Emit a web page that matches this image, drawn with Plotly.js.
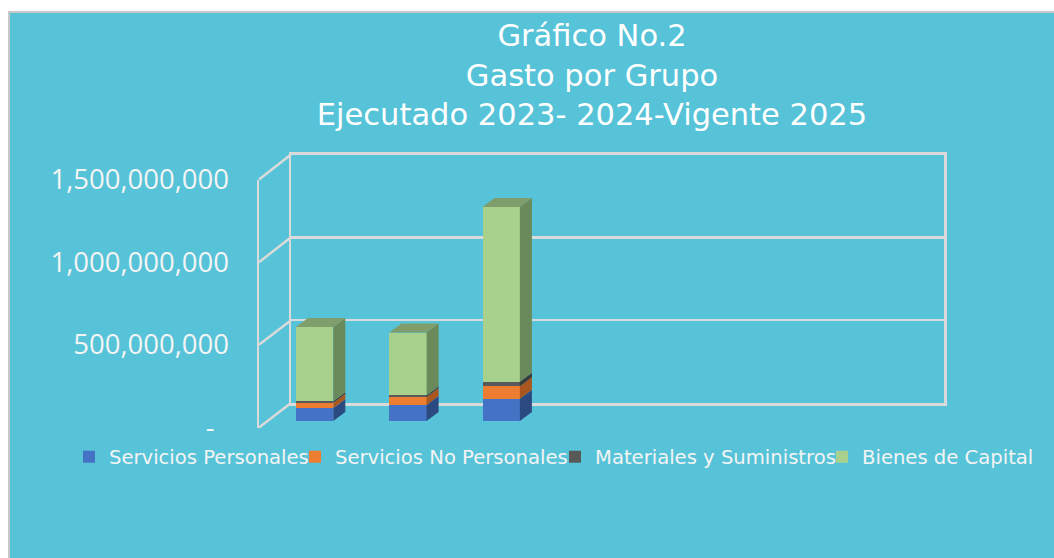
<!DOCTYPE html>
<html>
<head>
<meta charset="utf-8">
<script src="https://cdn.plot.ly/plotly-3.0.1.min.js"></script>
<style>html,body{margin:0;padding:0;background:#fff;}#chart{width:1054px;height:558px;}</style>
</head>
<body>
<div id="chart"></div>
<script>
// ---- data ----
const periods = ["Ejecutado 2023", "Ejecutado 2024", "Vigente 2025"];
const seriesNames = ["Servicios Personales", "Servicios No Personales", "Materiales y Suministros", "Bienes de Capital"];
const serviciosPersonales = [79000000, 97000000, 135000000];
const serviciosNoPersonales = [32000000, 48000000, 75000000];
const materialesSuministros = [8000000, 10000000, 28000000];
const bienesCapital = [450000000, 380000000, 1057000000];
const tickValues = [0, 500000000, 1000000000, 1500000000];
const tickLabels = ["-\u00a0\u00a0", "500,000,000", "1,000,000,000", "1,500,000,000"];

// ---- styling ----
const W = 1054, H = 558;
const px = p => p / W;
const py = p => 1 - p / H;
const frontColors = ["#4472C4", "#ED7D31", "#595959", "#A9D18E"];
const sideColors = ["#2C4A82", "#A9561F", "#3A3A3A", "#6B8A5B"];
const topColor = "#7F9E6B";
const gridCol = "#DADADA";
const bg = "#56C3D8";
const txt = "#F4F4F4";
const TFONT = "DejaVu Sans";
const AFONT = "Open Sans";

const allSeries = [serviciosPersonales, serviciosNoPersonales, materialesSuministros, bienesCapital];
const xs = periods.map((_, i) => i + 1);
const barW = 0.4, dx = 0.129, dy = 5.45e7;
const legendIds = ["legend", "legend2", "legend3", "legend4"];
const legendTextX = [109, 335, 595, 862];

const traces = [
  // helper (empty) traces so the wall and the front axis subplots are created
  {type: "scatter", x: [], y: [], xaxis: "x", yaxis: "y", showlegend: false, hoverinfo: "skip"},
  {type: "scatter", x: [], y: [], xaxis: "x2", yaxis: "y2", showlegend: false, hoverinfo: "skip"}
];
allSeries.forEach((vals, j) => {
  traces.push({
    type: "bar", name: seriesNames[j], x: xs, y: vals, width: barW,
    xaxis: "x3", yaxis: "y3", legend: legendIds[j],
    marker: {color: frontColors[j], line: {width: 0}},
    hovertemplate: "%{y:,.0f}<extra>" + seriesNames[j] + "</extra>"
  });
});

// 3D side and top faces derived from the same data
const base = xs.map(() => 0);
allSeries.forEach((vals, j) => {
  const sx = [], sy = [];
  vals.forEach((v, i) => {
    const xr = xs[i] + barW / 2, b = base[i];
    sx.push(xr, xr + dx, xr + dx, xr, xr, null);
    sy.push(b, b + dy, b + v + dy, b + v, b, null);
  });
  traces.push({type: "scatter", mode: "lines", x: sx, y: sy, xaxis: "x3", yaxis: "y3",
    fill: "toself", fillcolor: sideColors[j], line: {width: 0, color: sideColors[j]},
    hoverinfo: "skip", showlegend: false});
  vals.forEach((v, i) => { base[i] += v; });
});
{
  const tx = [], ty = [];
  xs.forEach((x, i) => {
    const xl = x - barW / 2, xr = x + barW / 2, t = base[i];
    tx.push(xl, xl + dx, xr + dx, xr, xl, null);
    ty.push(t, t + dy, t + dy, t, t, null);
  });
  traces.push({type: "scatter", mode: "lines", x: tx, y: ty, xaxis: "x3", yaxis: "y3",
    fill: "toself", fillcolor: topColor, line: {width: 0, color: topColor},
    hoverinfo: "skip", showlegend: false});
}

// geometry of walls
const frontBottom = 427.5, frontTop = 179.5;
const backBottom = 403, backTop = 154.5;
const frontX = 259, backX = 291;
const yMax = 1500000000;

const shapes = [{
  type: "rect", xref: "paper", yref: "paper", layer: "below",
  x0: px(9), x1: 1.02, y0: -0.02, y1: py(12),
  fillcolor: bg, line: {color: "#C8C8C8", width: 2}
}];
tickValues.forEach(v => {
  const f = v / yMax;
  shapes.push({
    type: "line", xref: "paper", yref: "paper", layer: "below",
    x0: px(frontX), y0: py(frontBottom) + f * (py(frontTop) - py(frontBottom)),
    x1: px(backX), y1: py(backBottom) + f * (py(backTop) - py(backBottom)),
    line: {color: gridCol, width: 2.5}
  });
});

const layout = {
  width: W, height: H, autosize: false,
  margin: {l: 0, r: 0, t: 0, b: 0},
  paper_bgcolor: "#FFFFFF", plot_bgcolor: "rgba(0,0,0,0)",
  font: {family: AFONT, color: txt},
  barmode: "stack",
  showlegend: true,
  title: {
    text: "Gráfico No.2<br>Gasto por Grupo<br>Ejecutado 2023- 2024-Vigente 2025",
    x: px(592), xanchor: "center", y: py(46), yanchor: "top",
    font: {family: TFONT, size: 30.5, color: "#FFFFFF"}
  },
  // back wall (gridlines)
  xaxis: {visible: true, anchor: "y", domain: [px(backX), px(944)], range: [0, 1], showgrid: false, zeroline: false,
    showticklabels: false, ticks: "", showline: true, mirror: true, linecolor: gridCol, linewidth: 2.5, fixedrange: true},
  yaxis: {visible: true, anchor: "x", domain: [py(backBottom), py(backTop)], range: [0, yMax], tick0: 0, dtick: 500000000,
    showgrid: true, gridcolor: gridCol, gridwidth: 2.5, zeroline: false, showticklabels: false, ticks: "",
    showline: true, mirror: true, linecolor: gridCol, linewidth: 2.5, fixedrange: true},
  // front axis (tick labels)
  xaxis2: {visible: true, anchor: "y2", domain: [px(frontX), px(900)], range: [0, 1], showgrid: false, zeroline: false,
    showline: false, showticklabels: false, ticks: "", fixedrange: true},
  yaxis2: {visible: true, anchor: "x2", domain: [py(frontBottom), py(frontTop)], range: [0, yMax],
    tickmode: "array", tickvals: tickValues, ticktext: tickLabels,
    showgrid: false, zeroline: false, showline: true, linecolor: gridCol, linewidth: 2.5,
    ticks: "outside", ticklen: 22, tickcolor: "rgba(0,0,0,0)",
    tickfont: {family: AFONT, size: 27.5, color: txt}, fixedrange: true},
  // bars plane
  xaxis3: {domain: [px(268), px(921)], range: [0.5, 7.5], visible: false, fixedrange: true},
  yaxis3: {anchor: "x3", domain: [py(421), py(173.2)], range: [0, yMax], visible: false, fixedrange: true},
  shapes: shapes
};
legendIds.forEach((id, j) => {
  layout[id] = {orientation: "h", x: px(legendTextX[j] - 40), xanchor: "left", y: py(457), yanchor: "middle",
    bgcolor: "rgba(0,0,0,0)", borderwidth: 0, font: {family: TFONT, size: 19.6, color: txt}};
});

Plotly.newPlot("chart", traces, layout, {displayModeBar: false, staticPlot: true});
</script>
</body>
</html>
